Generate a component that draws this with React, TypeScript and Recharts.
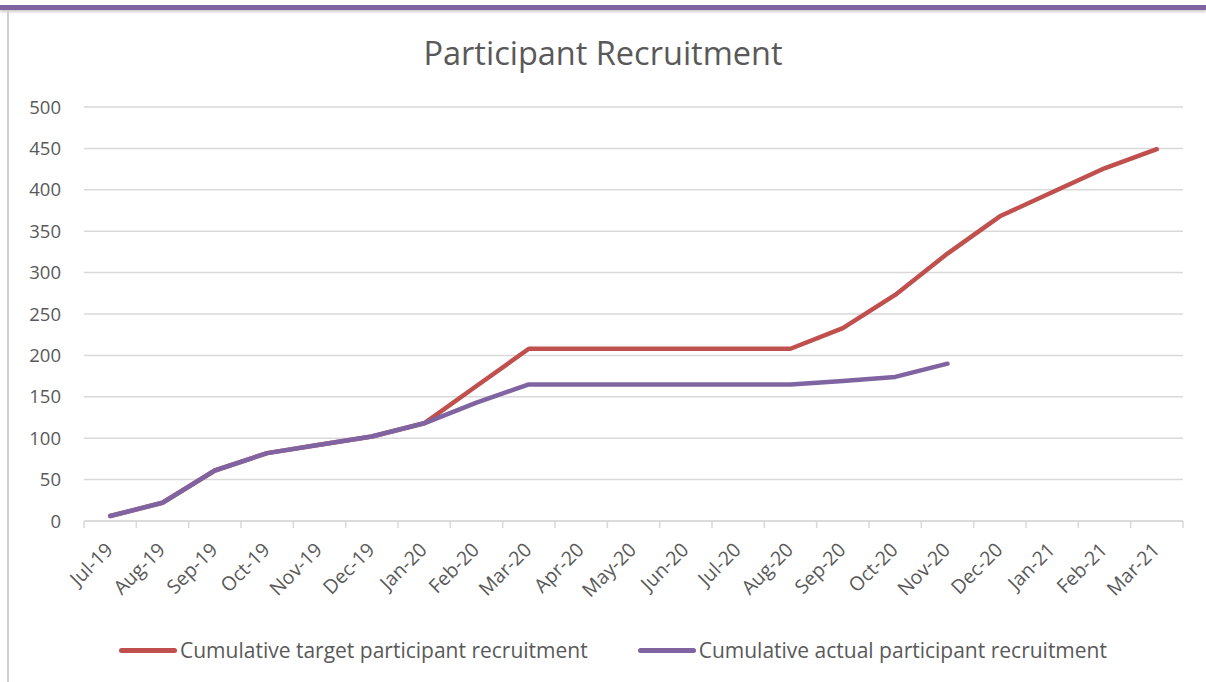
import React from 'react'
import { LineChart, Line, XAxis, YAxis, CartesianGrid, Legend } from 'recharts'

const months = [
  'Jul-19', 'Aug-19', 'Sep-19', 'Oct-19', 'Nov-19', 'Dec-19', 'Jan-20',
  'Feb-20', 'Mar-20', 'Apr-20', 'May-20', 'Jun-20', 'Jul-20', 'Aug-20',
  'Sep-20', 'Oct-20', 'Nov-20', 'Dec-20', 'Jan-21', 'Feb-21', 'Mar-21'
]
const targetRecruitment = [
  6, 22, 61, 82, 92, 102, 118, 163, 208, 208, 208, 208, 208, 208,
  233, 273, 323, 368, 397, 426, 449
]
const actualRecruitment: (number | null)[] = [
  6, 22, 61, 82, 92, 102, 118, 143, 165, 165, 165, 165, 165, 165,
  169, 174, 190, null, null, null, null
]
const yTicks = [0, 50, 100, 150, 200, 250, 300, 350, 400, 450, 500]

const RED = '#C0504D'
const PURPLE = '#8064A2'
const TEXT = '#595959'
const GRID = '#D9D9D9'
const FONT = '"Open Sans", sans-serif'

const W = 1206
const H = 682
const margin = { top: 107, right: 23, bottom: 17, left: 0 }
const Y_WIDTH = 84
const plotWidth = W - margin.left - margin.right - Y_WIDTH
const band = plotWidth / months.length

const data = months.map((m, i) => ({
  month: m,
  target: targetRecruitment[i],
  actual: actualRecruitment[i]
}))

const TICK_SIZE = 7
const TICK_MARGIN = 0

const MonthTick = (props: any) => {
  const { x, y, payload, index } = props
  const axisY = y - TICK_SIZE - TICK_MARGIN
  const isLast = index === months.length - 1
  const tx = x + 4
  const ty = y + 23
  return (
    <g>
      <line x1={x - band / 2} x2={x - band / 2} y1={axisY} y2={axisY + TICK_SIZE} stroke={GRID} strokeWidth={1.5} />
      {isLast && (
        <line x1={x + band / 2} x2={x + band / 2} y1={axisY} y2={axisY + TICK_SIZE} stroke={GRID} strokeWidth={1.5} />
      )}
      <text
        x={tx}
        y={ty}
        textAnchor="end"
        fill={TEXT}
        fontSize={19.5}
        fontFamily={FONT}
        transform={`rotate(-45, ${tx}, ${ty})`}
      >
        {payload.value}
      </text>
    </g>
  )
}

const legendItems = [
  { label: 'Cumulative target participant recruitment', color: RED },
  { label: 'Cumulative actual participant recruitment', color: PURPLE }
]

const LegendContent = () => (
  <div style={{ display: 'flex', justifyContent: 'center', alignItems: 'center', width: W, paddingLeft: 20, boxSizing: 'border-box', height: 30, gap: 50, fontFamily: FONT, fontSize: 21, color: TEXT, whiteSpace: 'nowrap' }}>
    {legendItems.map(item => (
      <div key={item.label} style={{ display: 'flex', alignItems: 'center' }}>
        <span style={{ display: 'inline-block', width: 58, height: 5, borderRadius: 3, background: item.color, marginRight: 3 }} />
        <span>{item.label}</span>
      </div>
    ))}
  </div>
)

export default function App() {
  return (
    <div style={{ position: 'absolute', left: 0, top: 0, width: W, height: H, background: '#fff', overflow: 'hidden' }}>
      <div style={{ position: 'absolute', left: 0, top: 5, width: W, height: 5, background: PURPLE, boxShadow: '0 2px 3px rgba(0,0,0,0.2)' }} />
      <div style={{ position: 'absolute', left: 7, top: 10, width: 2, height: H - 10, background: '#D0D0D0' }} />
      <div style={{ position: 'absolute', left: 0, top: 30, width: W, textAlign: 'center', fontFamily: FONT, fontSize: 32.5, color: TEXT }}>
        Participant Recruitment
      </div>
      <LineChart width={W} height={H} data={data} margin={margin}>
        <CartesianGrid vertical={false} stroke={GRID} strokeWidth={1.5} />
        <XAxis
          dataKey="month"
          interval={0}
          height={114}
          padding={{ left: band / 2, right: band / 2 }}
          axisLine={{ stroke: GRID, strokeWidth: 1.5 }}
          tickLine={false}
          tickSize={TICK_SIZE}
          tickMargin={TICK_MARGIN}
          tick={<MonthTick />}
        />
        <YAxis
          width={Y_WIDTH}
          domain={[0, 500]}
          ticks={yTicks}
          axisLine={false}
          tickLine={false}
          tickMargin={17}
          tick={{ fill: TEXT, fontSize: 18.5, fontFamily: FONT }}
        />
        <Legend verticalAlign="bottom" wrapperStyle={{ left: 0, width: W }} content={<LegendContent />} />
        <Line
          type="linear"
          dataKey="target"
          stroke={RED}
          strokeWidth={4.5}
          strokeLinecap="round"
          strokeLinejoin="round"
          dot={false}
          activeDot={false}
          isAnimationActive={false}
          name="Cumulative target participant recruitment"
        />
        <Line
          type="linear"
          dataKey="actual"
          stroke={PURPLE}
          strokeWidth={4.5}
          strokeLinecap="round"
          strokeLinejoin="round"
          dot={false}
          activeDot={false}
          isAnimationActive={false}
          name="Cumulative actual participant recruitment"
        />
      </LineChart>
    </div>
  )
}
